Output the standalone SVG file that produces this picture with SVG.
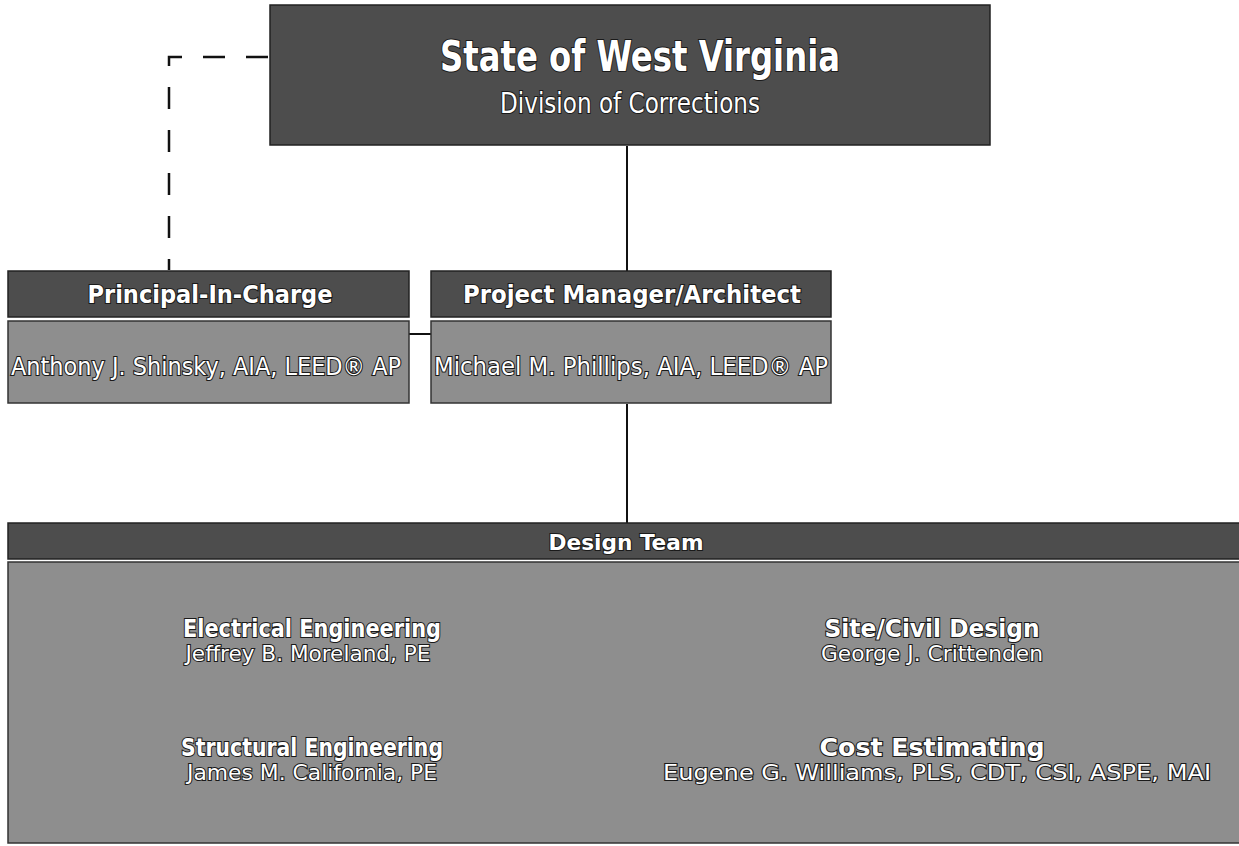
<svg xmlns="http://www.w3.org/2000/svg" width="1239" height="846" viewBox="0 0 1239 846">
<style>
.hdr{fill:#4d4d4d;stroke:#222;stroke-width:1.5}
.body{fill:#8e8e8e;stroke:#333;stroke-width:1.5}
.t{font-family:"DejaVu Sans Condensed","Liberation Sans Narrow","Liberation Sans",Arial,sans-serif;fill:#fff;stroke:#1a1a1a;stroke-width:2;paint-order:stroke;text-anchor:middle}
.b{font-weight:bold}
.line{stroke:#111;stroke-width:2;fill:none}
.dash{stroke:#111;stroke-width:2.5;fill:none;stroke-dasharray:22 21}
</style>
<rect width="1239" height="846" fill="#fff"/>
<g id="connectors">
<path class="line" d="M627 146 V271"/>
<path class="line" d="M409 334 H431"/>
<path class="line" d="M627 404 V523"/>
<path class="dash" d="M268 57 H169 V270"/>
</g>
<g id="state">
<rect class="hdr" x="270" y="5" width="720" height="140"/>
<text class="t b" x="640" y="71" font-size="42" textLength="400" lengthAdjust="spacingAndGlyphs">State of West Virginia</text>
<text class="t" x="630" y="113" font-size="28" textLength="260" lengthAdjust="spacingAndGlyphs">Division of Corrections</text>
</g>
<g id="principal">
<rect class="hdr" x="8" y="271" width="401" height="46"/>
<rect class="body" x="8" y="321" width="401" height="82"/>
<text class="t b" x="210" y="303" font-size="24" textLength="245" lengthAdjust="spacingAndGlyphs">Principal-In-Charge</text>
<text class="t" x="206" y="375" font-size="24" textLength="390" lengthAdjust="spacingAndGlyphs">Anthony J. Shinsky, AIA, LEED® AP</text>
</g>
<g id="pm">
<rect class="hdr" x="431" y="271" width="400" height="46"/>
<rect class="body" x="431" y="321" width="400" height="82"/>
<text class="t b" x="632" y="303" font-size="24" textLength="338" lengthAdjust="spacingAndGlyphs">Project Manager/Architect</text>
<text class="t" x="631" y="375" font-size="24" textLength="394" lengthAdjust="spacingAndGlyphs">Michael M. Phillips, AIA, LEED® AP</text>
</g>
<g id="design-team">
<rect class="hdr" x="8" y="523" width="1240" height="36"/>
<rect class="body" x="8" y="562" width="1240" height="281"/>
<text class="t b" x="626" y="550" font-size="22" textLength="155" lengthAdjust="spacingAndGlyphs">Design Team</text>
<text class="t b" x="312" y="637" font-size="24" textLength="258" lengthAdjust="spacingAndGlyphs">Electrical Engineering</text>
<text class="t" x="308" y="661" font-size="22" textLength="245" lengthAdjust="spacingAndGlyphs">Jeffrey B. Moreland, PE</text>
<text class="t b" x="932" y="637" font-size="24" textLength="215" lengthAdjust="spacingAndGlyphs">Site/Civil Design</text>
<text class="t" x="932" y="661" font-size="22" textLength="222" lengthAdjust="spacingAndGlyphs">George J. Crittenden</text>
<text class="t b" x="312" y="756" font-size="24" textLength="262" lengthAdjust="spacingAndGlyphs">Structural Engineering</text>
<text class="t" x="312" y="780" font-size="22" textLength="250" lengthAdjust="spacingAndGlyphs">James M. California, PE</text>
<text class="t b" x="932" y="756" font-size="24" textLength="225" lengthAdjust="spacingAndGlyphs">Cost Estimating</text>
<text class="t" x="937" y="780" font-size="22" textLength="548" lengthAdjust="spacingAndGlyphs">Eugene G. Williams, PLS, CDT, CSI, ASPE, MAI</text>
</g>
</svg>
